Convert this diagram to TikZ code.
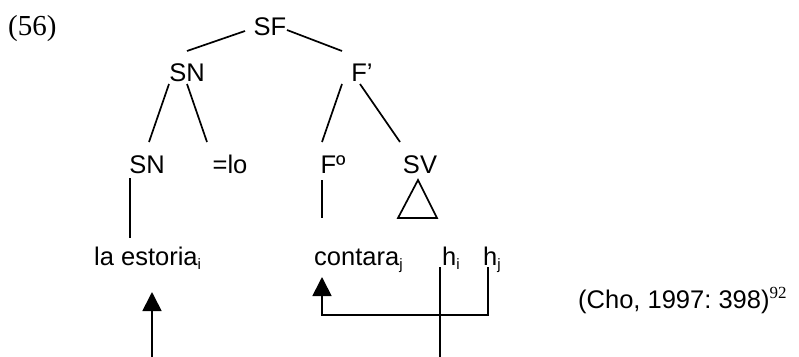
\documentclass[tikz,border=0pt]{standalone}
\usepackage{fontspec}
\setmainfont{Liberation Sans}
\newfontfamily\timesfont{Liberation Serif}
\usetikzlibrary{arrows.meta}

% subscript index in the small sans size
\newcommand{\idx}[1]{\raisebox{-4.5pt}{\fontsize{15}{16}\selectfont #1}}

\begin{document}
\frenchspacing
\begin{tikzpicture}[x=1pt, y=-1pt,
  every node/.style={inner sep=0pt, font=\fontsize{25.5}{30}\selectfont},
  lbl/.style={anchor=base},
  wrd/.style={anchor=base west},
  branch/.style={line width=1.7pt},
  pointer/.style={line width=1.7pt, -{Triangle[length=19pt, width=19pt]}}]
\useasboundingbox (0,0) rectangle (799,356);

% example number
\node[wrd, font=\timesfont\fontsize{29}{32}\selectfont] (num) at (8,35) {(56)};

% tree labels
\node[lbl] (SF)  at (270,35) {SF};
\node[lbl] (SN)  at (187,81) {SN};
\node[lbl] (Fb)  at (362,81) {F’};
\node[lbl] (SNb) at (147,173) {SN};
\node[lbl] (lo)  at (230,173) {=lo};
\node[lbl] (Fo)  at (333,173) {Fº};
\node[lbl] (SV)  at (420,173) {SV};

% terminal words
\node[wrd] (estoria) at (94,265)  {la estoria\idx{i}};
\node[wrd] (contara) at (314,265) {contara\idx{j}};
\node[wrd] (hi)      at (442,265) {h\idx{i}};
\node[wrd] (hj)      at (483,265) {h\idx{j}};

% source
\node[wrd] (cite) at (578,308) {(Cho, 1997: 398)\raisebox{10pt}{\timesfont\fontsize{17}{18}\selectfont 92}};

% free ends below the frame
\coordinate (tailA) at (152,362);
\coordinate (tailB) at (440,362);

% branches
\draw[branch] ([shift={(-25,-4)}]SF.base) -- ([shift={(0,-30)}]SN.base);
\draw[branch] ([shift={(17,-5)}]SF.base) -- ([shift={(-20,-30)}]Fb.base);
\draw[branch] ([shift={(-18,3)}]SN.base) -- ([shift={(2,-31)}]SNb.base);
\draw[branch] ([shift={(0,3)}]SN.base) -- ([shift={(-23,-31)}]lo.base);
\draw[branch] ([shift={(-20,3)}]Fb.base) -- ([shift={(-11,-31)}]Fo.base);
\draw[branch] ([shift={(-2,3)}]Fb.base) -- ([shift={(-20,-31)}]SV.base);

% unary branches to the words
\draw[branch] ([shift={(-17,5)}]SNb.base) -- ([shift={(36,-27)}]estoria.base west);
\draw[branch] ([shift={(-11,7)}]Fo.base) -- ([shift={(8,-47)}]contara.base west);

% triangle under SV
\draw[branch, line join=miter] ([shift={(-2,7)}]SV.base) -- ([shift={(-22,45)}]SV.base)
  -- ([shift={(17,45)}]SV.base) -- cycle;

% movement arrows
\draw[pointer] (tailA) -- ([shift={(58,27)}]estoria.base west);
\draw[branch] ([shift={(-2,2)}]hi.base west) -- (tailB);
\draw[pointer] ([shift={(5,2)}]hj.base west) -- ++(0,48) -| ([shift={(8,12)}]contara.base west);
\end{tikzpicture}
\end{document}
